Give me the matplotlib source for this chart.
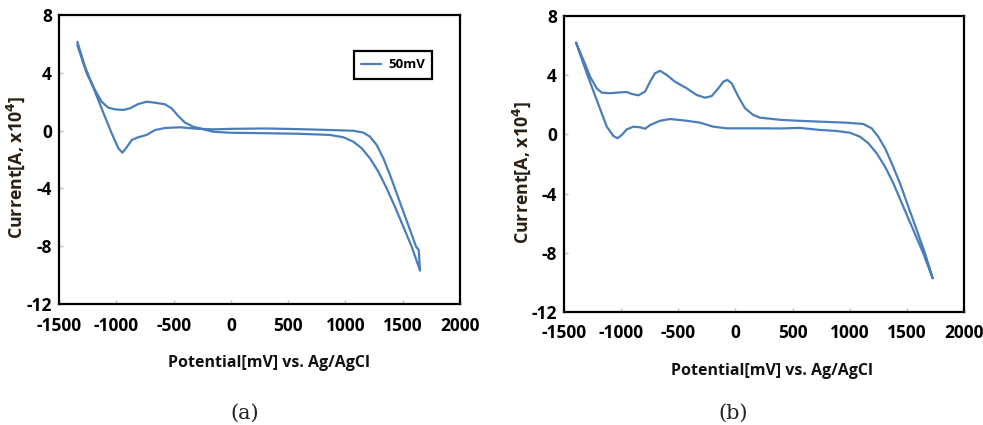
import matplotlib
matplotlib.use("Agg")
import matplotlib.pyplot as plt

plt.rcParams['axes.unicode_minus'] = False
plt.rcParams['font.family'] = ['Open Sans', 'DejaVu Sans']

# panel (a): cyclic voltammogram, 50 mV/s (potential in mV, current x1e4 A)
pot_a = [-1340, -1273, -1215, -1157, -1099, -1040, -982, -947, -915, -865, -808,
         -735, -662, -575, -444, -298, -153, 0, 300, 600, 865, 1069, 1156, 1214,
         1273, 1331, 1389, 1447, 1505, 1564, 1616, 1640, 1645, 1651,
         1578, 1505, 1432, 1360, 1287, 1214, 1142, 1069, 981, 865, 600, 300, 0,
         -153, -241, -328, -400, -459, -517, -575, -662, -735, -808, -880, -939,
         -1011, -1070, -1128, -1186, -1258, -1340]
cur_a = [6.15, 4.42, 3.27, 2.12, 0.96, -0.19, -1.22, -1.53, -1.22, -0.65, -0.46,
         -0.30, 0.04, 0.18, 0.23, 0.13, 0.09, 0.12, 0.15, 0.10, 0.04, -0.01, -0.14,
         -0.42, -1.00, -1.92, -3.07, -4.34, -5.61, -6.88, -8.03, -8.26, -8.96, -9.69,
         -8.03, -6.65, -5.27, -4.00, -2.84, -1.92, -1.22, -0.77, -0.46, -0.30,
         -0.22, -0.18, -0.15, -0.08, 0.09, 0.27, 0.55, 1.01, 1.54, 1.82, 1.93,
         2.00, 1.84, 1.54, 1.43, 1.47, 1.59, 2.00, 2.81, 3.97, 5.92]

# panel (b)
pot_b = [-1395, -1331, -1272, -1214, -1170, -1097, -1010, -951, -907, -849, -791,
         -747, -704, -660, -601, -529, -426, -339, -266, -208, -150, -106, -71,
         -33, 25, 84, 156, 215, 400, 550, 740, 973, 1119, 1192, 1250, 1309, 1367,
         1440, 1513, 1586, 1659, 1726,
         1644, 1556, 1469, 1382, 1309, 1236, 1163, 1090, 1002, 886, 740, 560,
         400, 215, -77, -194, -310, -426, -572, -660, -747, -791, -835, -893,
         -951, -995, -1033, -1068, -1126, -1214, -1301, -1395]
cur_b = [6.20, 5.03, 3.90, 3.11, 2.82, 2.78, 2.84, 2.86, 2.73, 2.64, 2.89,
         3.56, 4.13, 4.30, 4.01, 3.56, 3.11, 2.66, 2.48, 2.59, 3.11, 3.56, 3.68,
         3.45, 2.55, 1.76, 1.31, 1.13, 0.98, 0.92, 0.86, 0.79, 0.70, 0.41, -0.16,
         -0.94, -1.95, -3.31, -4.89, -6.46, -8.04, -9.73,
         -8.04, -6.46, -4.89, -3.31, -2.18, -1.28, -0.60, -0.16, 0.11, 0.23, 0.30,
         0.44, 0.40, 0.41, 0.41, 0.52, 0.79, 0.92, 1.04, 0.92, 0.63, 0.38, 0.48,
         0.52, 0.34, -0.04, -0.26, -0.11, 0.52, 2.32, 4.13, 6.20]

xticks = [-1500, -1000, -500, 0, 500, 1000, 1500, 2000]
yticks = [-12, -8, -4, 0, 4, 8]
line_color = '#4a7ebb'
label_color = '#2a1f12'

fig = plt.figure(figsize=(9.83, 4.25), dpi=100)
ax1 = fig.add_axes([0.060, 0.2847, 0.408, 0.680])
ax2 = fig.add_axes([0.5738, 0.2659, 0.4069, 0.6965])

for ax, x, y in [(ax1, pot_a, cur_a), (ax2, pot_b, cur_b)]:
    ax.plot(x, y, color=line_color, lw=1.6, label='50mV',
            solid_joinstyle='round', solid_capstyle='round')
    ax.set_xlim(-1500, 2000)
    ax.set_ylim(-12, 8)
    ax.set_xticks(xticks)
    ax.set_yticks(yticks)
    ax.tick_params(direction='in', length=3, color='#c0c0c0', width=1,
                   labelsize=12.5)
    ax.tick_params(axis='x', pad=9)
    ax.tick_params(axis='y', pad=5)
    for lab in ax.get_xticklabels() + ax.get_yticklabels():
        lab.set_fontweight('bold')
    for s in ax.spines.values():
        s.set_linewidth(1.6)
        s.set_color('black')
    ax.set_xlabel('Potential[mV] vs. Ag/AgCl', fontsize=11.5, fontweight='bold',
                  color='#111111')
    ax.set_ylabel(r'Current[A, x10$^{\mathbf{4}}$]', fontsize=12.8,
                  fontweight='bold', color=label_color)

ax1.xaxis.set_label_coords(0.524, -0.178)
ax2.xaxis.set_label_coords(0.520, -0.172)
ax1.yaxis.set_label_coords(-0.080, 0.474)
ax2.yaxis.set_label_coords(-0.078, 0.473)

leg = ax1.legend(loc='upper right', bbox_to_anchor=(0.93, 0.875), borderaxespad=0,
                 fancybox=False, framealpha=1, handlelength=1.5, borderpad=0.55,
                 handletextpad=0.5, prop={'weight': 'bold', 'size': 9.5})
leg.get_frame().set_edgecolor('black')
leg.get_frame().set_linewidth(1.6)

fig.text(245 / 983, 1 - 413 / 425, '(a)', ha='center', va='center',
         fontsize=15, family='DejaVu Serif', color='#222222')
fig.text(733 / 983, 1 - 413 / 425, '(b)', ha='center', va='center',
         fontsize=15, family='DejaVu Serif', color='#222222')

fig.savefig('out.png', dpi=100)
